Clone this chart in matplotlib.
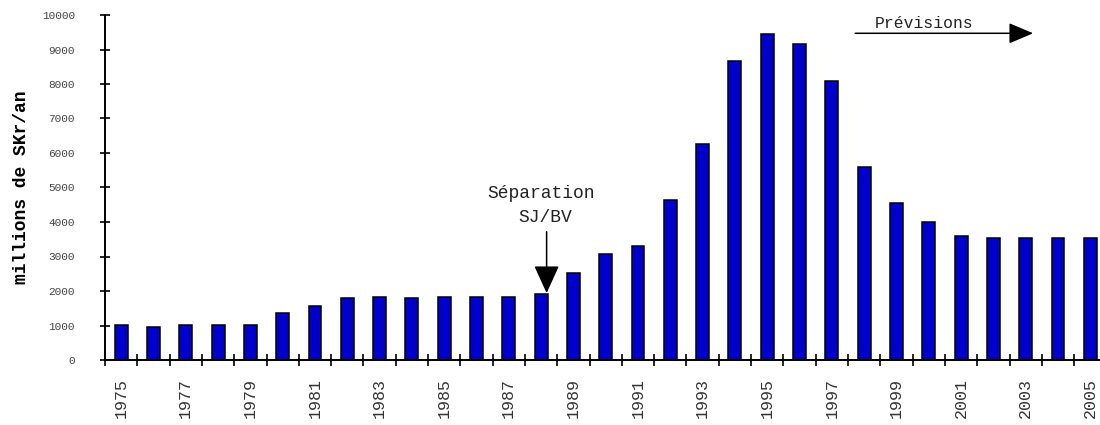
import numpy as np
import matplotlib.pyplot as plt

years = list(range(1975, 2006))
montants = [1010, 970, 1010, 1010, 1010, 1370, 1570, 1790, 1830, 1790,
            1830, 1830, 1830, 1910, 2510, 3060, 3300, 4630, 6250, 8680,
            9460, 9150, 8100, 5600, 4540, 3990, 3600, 3530, 3530, 3530,
            3530]
yticks = list(range(0, 10001, 1000))

plt.rcParams['font.family'] = ['Liberation Mono', 'DejaVu Sans Mono']

fig = plt.figure(figsize=(11, 4.25), dpi=100)
ax = fig.add_axes([105 / 1100, 65 / 425, 995 / 1100, 345 / 425])

x = np.arange(len(years))
ax.bar(x, montants, width=0.4, color='#0000cc', edgecolor='black', linewidth=1.1, zorder=2)

ax.set_xlim(-0.5, 30.3)
ax.set_ylim(0, 10000)

for side in ['top', 'right']:
    ax.spines[side].set_visible(False)
for side in ['left', 'bottom']:
    ax.spines[side].set_linewidth(1.4)

# y axis: ticks cross the axis line
ax.set_yticks(yticks)
ax.set_yticklabels([str(v) for v in yticks], fontsize=8, color='#444444')
ax.tick_params(axis='y', direction='inout', length=7.2, width=1.2, pad=18)

# x axis: labels every other year, tick marks between the bars
ax.set_xticks(x[::2])
ax.set_xticklabels([str(y) for y in years[::2]], rotation=90, fontsize=12, color='#333333')
ax.tick_params(axis='x', which='major', length=0, pad=13)
ax.set_xticks(np.arange(-0.5, 30.5, 1.0), minor=True)
ax.tick_params(axis='x', which='minor', direction='inout', length=8.6, width=1.2)

fig.text(22 / 1100, 1 - 187.5 / 425, 'millions de SKr/an', rotation=90,
         ha='center', va='center', fontsize=13, fontweight='bold')

# separation annotation
ax.text(13.0, 4690, 'Séparation', ha='center', va='baseline', fontsize=13, color='#222222')
ax.text(13.12, 4010, 'SJ/BV', ha='center', va='baseline', fontsize=13, color='#222222')
ax.annotate('', xy=(13.17, 1940), xytext=(13.17, 3720),
            arrowprops=dict(arrowstyle='-|>,head_length=1.73,head_width=0.79',
                            mutation_scale=10, color='black', lw=1.1,
                            shrinkA=0, shrinkB=0))

# forecast annotation
ax.text(24.86, 9614, 'Prévisions', ha='center', va='baseline', fontsize=11.8, color='#222222')
ax.annotate('', xy=(28.23, 9470), xytext=(22.72, 9470),
            arrowprops=dict(arrowstyle='-|>,head_length=1.51,head_width=0.64',
                            mutation_scale=10, color='black', lw=1.1,
                            shrinkA=0, shrinkB=0))

fig.savefig('out.png', dpi=100)
